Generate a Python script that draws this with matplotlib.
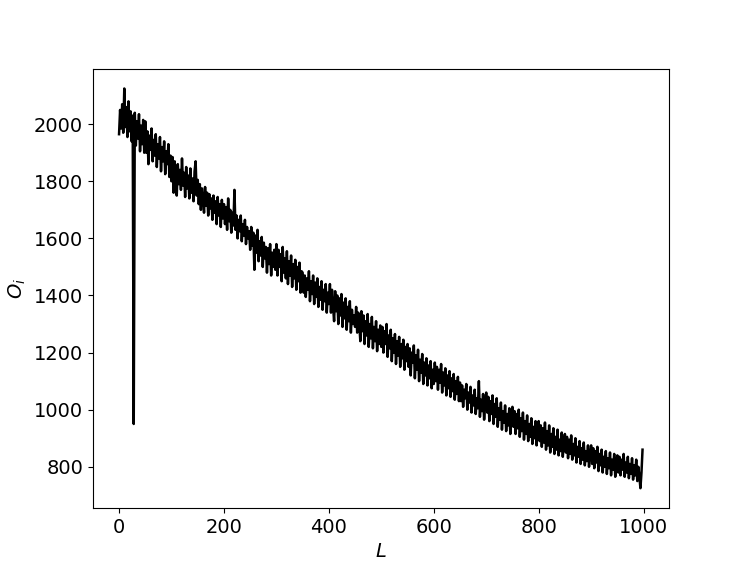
import matplotlib
matplotlib.use('Agg')
import matplotlib.pyplot as plt
import numpy as np

plt.rcParams['font.size'] = 14

# O_i values, one every 2 steps of L (rows of 50 L)
o_vals = [
    1965, 2050, 1985, 2070, 1970, 2125, 1990, 2060, 1955, 2080, 1975, 2045, 1940, 2030, 950, 2040, 1925, 2010, 1950, 2035, 1905, 1995, 1930, 2015, 1900,
    2010, 1900, 1975, 1860, 1960, 1910, 1985, 1870, 1945, 1890, 1965, 1850, 1930, 1880, 1955, 1835, 1920, 1870, 1940, 1825, 1905, 1860, 1930, 1815, 1890,
    1800, 1885, 1760, 1870, 1815, 1750, 1860, 1790, 1840, 1770, 1880, 1785, 1830, 1745, 1850, 1775, 1820, 1740, 1845, 1760, 1810, 1730, 1835, 1870, 1750,
    1805, 1720, 1790, 1700, 1775, 1740, 1690, 1780, 1715, 1760, 1680, 1755, 1705, 1740, 1665, 1750, 1690, 1730, 1650, 1745, 1680, 1720, 1640, 1735, 1670,
    1720, 1650, 1710, 1630, 1740, 1660, 1700, 1620, 1690, 1645, 1770, 1630, 1680, 1600, 1665, 1625, 1680, 1590, 1650, 1610, 1665, 1580, 1640, 1600, 1625,
    1560, 1640, 1575, 1620, 1490, 1610, 1550, 1630, 1520, 1590, 1540, 1605, 1500, 1585, 1530, 1570, 1480, 1565, 1510, 1580, 1470, 1550, 1500, 1560, 1490,
    1580, 1470, 1560, 1500, 1545, 1450, 1570, 1480, 1530, 1460, 1555, 1440, 1520, 1470, 1540, 1430, 1510, 1460, 1525, 1420, 1500, 1450, 1515, 1410, 1485,
    1480, 1410, 1470, 1395, 1460, 1420, 1485, 1380, 1450, 1405, 1470, 1370, 1445, 1395, 1460, 1360, 1430, 1385, 1450, 1350, 1420, 1380, 1440, 1340, 1410,
    1370, 1440, 1340, 1420, 1360, 1310, 1415, 1345, 1400, 1300, 1390, 1330, 1405, 1290, 1375, 1320, 1390, 1280, 1360, 1310, 1380, 1270, 1350, 1300, 1330,
    1290, 1360, 1270, 1340, 1300, 1240, 1345, 1275, 1330, 1230, 1310, 1260, 1335, 1220, 1300, 1250, 1325, 1215, 1290, 1240, 1310, 1205, 1280, 1230, 1295,
    1220, 1290, 1200, 1275, 1230, 1300, 1185, 1260, 1215, 1280, 1170, 1250, 1200, 1265, 1160, 1240, 1190, 1255, 1150, 1230, 1180, 1245, 1140, 1220, 1170,
    1230, 1150, 1215, 1120, 1200, 1165, 1225, 1110, 1190, 1140, 1210, 1100, 1175, 1130, 1195, 1090, 1165, 1120, 1180, 1085, 1155, 1110, 1170, 1075, 1140,
    1090, 1165, 1100, 1150, 1070, 1140, 1095, 1160, 1060, 1130, 1085, 1145, 1050, 1120, 1075, 1135, 1045, 1110, 1065, 1125, 1035, 1100, 1055, 1115, 1030,
    1095, 1030, 1085, 1010, 1070, 1040, 1090, 1000, 1060, 1025, 1080, 990, 1050, 1015, 1070, 985, 1040, 1005, 1100, 975, 1035, 995, 1055, 965, 1025,
    1060, 990, 1045, 960, 1030, 985, 1050, 950, 1020, 975, 1040, 940, 1005, 965, 1025, 930, 995, 955, 1015, 925, 985, 945, 1005, 915, 975,
    1010, 940, 995, 915, 985, 935, 1000, 905, 970, 925, 990, 895, 960, 915, 980, 890, 950, 905, 970, 880, 940, 900, 960, 875, 930,
    960, 890, 945, 870, 935, 885, 955, 860, 925, 875, 945, 850, 915, 870, 935, 845, 905, 860, 930, 840, 895, 855, 920, 835, 885,
    915, 850, 905, 830, 895, 845, 910, 825, 880, 840, 900, 815, 870, 835, 890, 810, 865, 825, 885, 805, 855, 820, 875, 800, 845,
    875, 810, 865, 795, 855, 815, 870, 785, 845, 805, 860, 780, 835, 800, 855, 775, 830, 795, 850, 770, 825, 790, 845, 765, 815,
    840, 780, 835, 770, 825, 790, 845, 765, 815, 780, 835, 760, 810, 775, 830, 755, 805, 770, 825, 750, 800, 765, 725, 780, 860,
]
L_step = 2
L_vals = np.arange(len(o_vals)) * L_step

fig = plt.figure(figsize=(7.43, 5.71), dpi=100)
ax = fig.add_subplot(111)
ax.plot(L_vals, o_vals, color='black', linewidth=1.8)
ax.set_xlabel('$L$')
ax.set_ylabel('$O_i$')

fig.savefig('out.png', dpi=100)
